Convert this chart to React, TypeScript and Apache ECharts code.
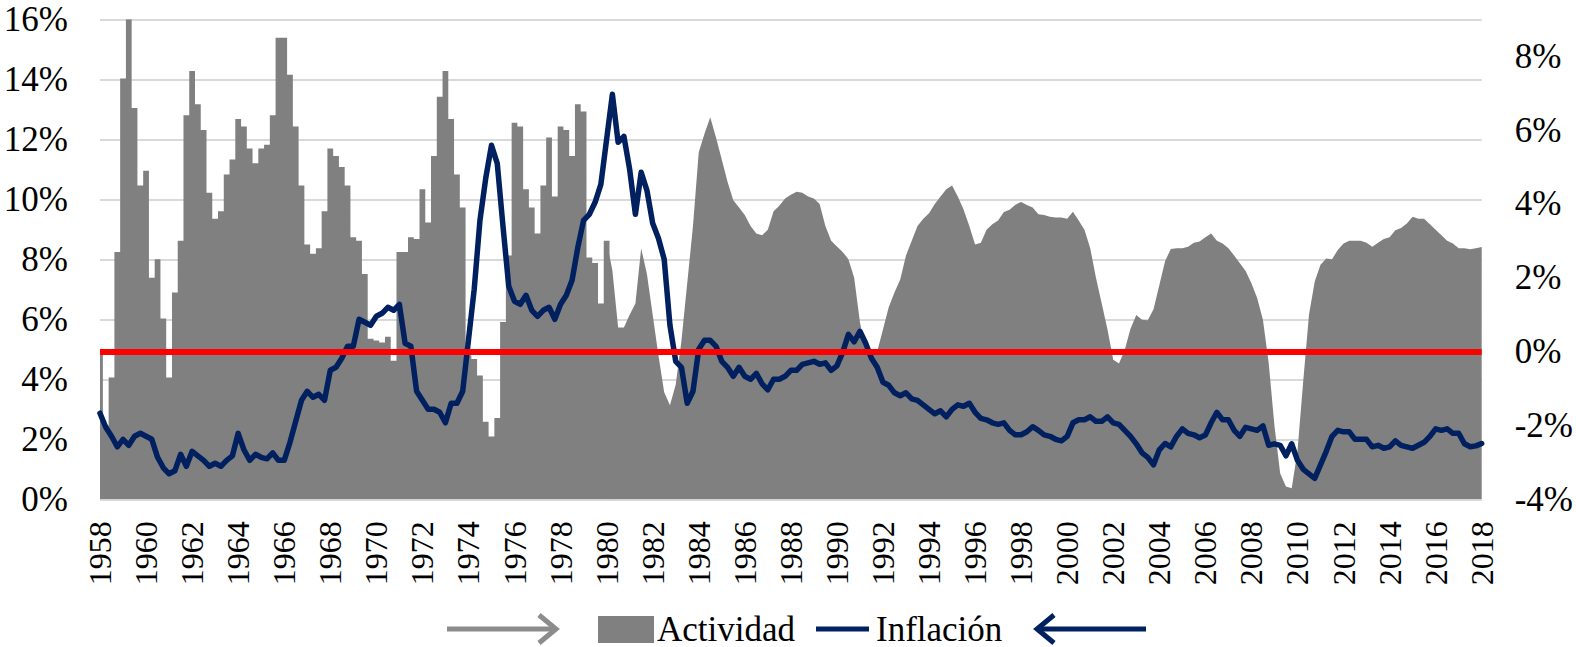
import React, { useEffect, useRef } from "react";
import * as echarts from "echarts";

// Quarterly data, 1958Q1 .. 2018Q1
const startYear = 1958;

// Actividad (right axis, %)
const activity: number[] = [
  0.0, -2.0, -0.7, 2.7,
  7.4, 9.0, 6.6, 4.5,
  4.9, 2.0, 2.5, 0.9,
  -0.7, 1.6, 3.0, 6.4,
  7.6, 6.7, 6.0, 4.3,
  3.6, 3.8, 4.8, 5.2,
  6.3, 6.1, 5.5, 5.1,
  5.5, 5.6, 6.4, 8.5,
  8.5, 7.5, 6.1, 4.5,
  2.9, 2.65, 2.8, 3.8,
  5.5, 5.3, 5.0, 4.5,
  3.1, 3.0, 2.1, 0.35,
  0.3, 0.25, 0.4, -0.25,
  2.7, 2.7, 3.1, 3.05,
  4.4, 3.5, 5.3, 6.9,
  7.6, 6.3, 4.8, 3.9,
  -0.1, -0.2, -0.65, -1.9,
  -2.3, -1.8, 0.8, 2.6,
  6.2, 6.1, 4.4, 3.9,
  3.2, 4.5, 5.8, 4.2,
  6.1, 6.0, 5.3, 6.7,
  6.5, 2.55, 2.4, 1.3,
  3.0, 2.2, 0.65, 0.65,
  1.0, 1.3, 2.8, 2.1,
  1.0, -0.1, -1.1, -1.45,
  -0.9, 0.3, 1.85, 3.4,
  5.4, 5.9, 6.35, 5.8,
  5.2, 4.6, 4.1, 3.9,
  3.7, 3.4, 3.2, 3.15,
  3.3, 3.8, 3.95, 4.15,
  4.25, 4.33, 4.3, 4.2,
  4.15, 4.0, 3.4, 3.0,
  2.85, 2.7, 2.5, 2.0,
  0.8, 0.0, -0.05, 0.0,
  0.6, 1.2, 1.6, 1.95,
  2.6, 3.0, 3.4, 3.6,
  3.75, 4.0, 4.2, 4.4,
  4.5, 4.2, 3.85, 3.4,
  2.9, 2.95, 3.3, 3.45,
  3.55, 3.78, 3.84, 3.98,
  4.05, 3.97, 3.9, 3.72,
  3.7, 3.65, 3.63, 3.63,
  3.6, 3.79, 3.55, 3.3,
  2.8, 2.0, 1.3, 0.6,
  -0.22, -0.32, 0.05, 0.62,
  0.99, 0.86, 0.85, 1.15,
  1.8, 2.45, 2.78, 2.8,
  2.8, 2.84, 2.95, 2.98,
  3.1, 3.2, 3.0, 2.93,
  2.8, 2.6, 2.39, 2.18,
  1.85, 1.45, 0.86, -0.3,
  -2.0, -3.3, -3.65, -3.7,
  -2.7, -0.8, 1.0, 1.9,
  2.35, 2.52, 2.5, 2.75,
  2.93, 3.0, 3.0, 3.0,
  2.95, 2.84, 2.95, 3.05,
  3.1, 3.29, 3.35, 3.47,
  3.65, 3.6, 3.6, 3.45,
  3.3, 3.15, 3.0, 2.93,
  2.8, 2.8, 2.77, 2.8,
  2.83,
];

// Inflación (left axis, %)
const inflation: number[] = [
  2.87, 2.4, 2.1, 1.75,
  2.0, 1.8, 2.1, 2.2,
  2.1, 2.0, 1.4, 1.05,
  0.85, 0.95, 1.5, 1.1,
  1.6, 1.45, 1.3, 1.1,
  1.2, 1.1, 1.3, 1.45,
  2.2, 1.65, 1.3, 1.5,
  1.4, 1.35, 1.55, 1.3,
  1.3, 1.9, 2.6, 3.3,
  3.6, 3.4, 3.5, 3.3,
  4.3, 4.4, 4.7, 5.1,
  5.1, 6.0, 5.9, 5.8,
  6.1, 6.2, 6.4, 6.3,
  6.5, 5.2, 5.1, 3.6,
  3.3, 3.0, 3.0, 2.9,
  2.55, 3.2, 3.2, 3.6,
  5.3, 7.0, 9.3, 10.7,
  11.8, 11.2, 9.1, 7.1,
  6.6, 6.5, 6.8, 6.3,
  6.1, 6.3, 6.4, 6.0,
  6.5, 6.8, 7.3, 8.4,
  9.3, 9.5, 9.9, 10.5,
  12.0, 13.5, 11.9, 12.1,
  11.0, 9.5, 10.9, 10.3,
  9.2, 8.7, 8.0, 5.8,
  4.6, 4.4, 3.2, 3.6,
  5.0, 5.3, 5.3, 5.1,
  4.6, 4.4, 4.1, 4.4,
  4.1, 4.0, 4.2, 3.85,
  3.65, 4.0, 4.0, 4.1,
  4.3, 4.3, 4.5, 4.55,
  4.6, 4.5, 4.55, 4.3,
  4.45, 4.9, 5.5, 5.25,
  5.6, 5.2, 4.7, 4.4,
  3.9, 3.8, 3.55, 3.45,
  3.55, 3.35, 3.3, 3.15,
  3.0, 2.85, 2.95, 2.75,
  3.0, 3.15, 3.1, 3.2,
  2.9, 2.7, 2.65, 2.55,
  2.5, 2.55, 2.3, 2.15,
  2.15, 2.25, 2.42, 2.3,
  2.15, 2.1, 2.0, 1.95,
  2.1, 2.55, 2.65, 2.65,
  2.75, 2.6, 2.6, 2.75,
  2.55, 2.5, 2.3, 2.1,
  1.85, 1.55, 1.4, 1.15,
  1.65, 1.86, 1.75, 2.1,
  2.35, 2.2, 2.15, 2.05,
  2.14, 2.55, 2.9, 2.65,
  2.65, 2.3, 2.1, 2.4,
  2.35, 2.3, 2.45, 1.8,
  1.85, 1.8, 1.45, 1.85,
  1.3, 1.0, 0.85, 0.7,
  1.15, 1.6, 2.1, 2.3,
  2.25, 2.25, 2.0, 2.0,
  2.0, 1.75, 1.8, 1.7,
  1.75, 1.95, 1.8, 1.75,
  1.7, 1.8, 1.9, 2.1,
  2.35, 2.3, 2.35, 2.2,
  2.2, 1.85, 1.75, 1.78,
  1.86,
];

const leftTicks = [0, 2, 4, 6, 8, 10, 12, 14, 16];
const rightTicks = [-4, -2, 0, 2, 4, 6, 8];

const seriesNames = ["Actividad", "Inflación"];

// the early activity data is quarterly-stepped in the source (up to 1980Q1)
const stepEndIndex = 88;

const quarters = activity.map(
  (_, i) => `${startYear + Math.floor(i / 4)}T${(i % 4) + 1}`
);

const FONT = "'Liberation Serif', 'Times New Roman', serif";
const GREY = "#808080";
const NAVY = "#002060";

export default function App() {
  const ref = useRef<HTMLDivElement>(null);

  useEffect(() => {
    document.body.style.margin = "0";
    if (!ref.current) return;
    const chart = echarts.init(ref.current, undefined, { renderer: "svg" });

    const legendY = 629;
    const actStep = activity.map((v, i) => (i <= stepEndIndex ? v : null));
    const actSmooth = activity.map((v, i) => (i >= stepEndIndex ? v : null));

    const areaBase = {
      name: seriesNames[0],
      type: "line",
      yAxisIndex: 1,
      showSymbol: false,
      connectNulls: false,
      lineStyle: { width: 0, color: GREY },
      itemStyle: { color: GREY },
      areaStyle: { color: GREY, opacity: 1, origin: "start" },
      z: 1,
    };

    chart.setOption({
      animation: false,
      backgroundColor: "#ffffff",
      grid: { left: 100, right: 84, top: 19.3, bottom: 147.7, containLabel: false },
      xAxis: {
        type: "category",
        data: quarters,
        boundaryGap: false,
        axisLine: { show: false },
        axisTick: { show: false },
        splitLine: { show: false },
        axisLabel: {
          interval: (i: number) => i % 8 === 0,
          formatter: (v: string) => v.slice(0, 4),
          rotate: 90,
          margin: 22,
          fontSize: 32,
          fontFamily: FONT,
          color: "#000",
        },
      },
      yAxis: [
        {
          type: "value",
          min: leftTicks[0],
          max: leftTicks[leftTicks.length - 1],
          interval: 2,
          axisLine: { show: false },
          axisTick: { show: false },
          splitLine: { show: true, lineStyle: { color: "#d9d9d9", width: 2 } },
          axisLabel: {
            formatter: (v: number) => `${v}%`,
            margin: 32,
            fontSize: 35,
            fontFamily: FONT,
            color: "#000",
          },
        },
        {
          type: "value",
          min: rightTicks[0],
          max: 9,
          interval: 2,
          position: "right",
          axisLine: { show: false },
          axisTick: { show: false },
          splitLine: { show: false },
          axisLabel: {
            formatter: (v: number) => (rightTicks.includes(v) ? `${v}%` : ""),
            margin: 33,
            fontSize: 35,
            fontFamily: FONT,
            color: "#000",
          },
        },
      ],
      series: [
        {
          ...areaBase,
          data: actStep,
          step: "middle",
        },
        {
          ...areaBase,
          data: actSmooth,
          markLine: {
            silent: true,
            symbol: "none",
            label: { show: false },
            lineStyle: { color: "#ff0000", width: 6, type: "solid" },
            data: [{ yAxis: 0 }],
          },
        },
        {
          name: seriesNames[1],
          type: "line",
          yAxisIndex: 0,
          data: inflation,
          showSymbol: false,
          lineStyle: { width: 5.5, color: NAVY, join: "round", cap: "round" },
          itemStyle: { color: NAVY },
          z: 3,
        },
      ],
      graphic: [
        // grey arrow (→)
        {
          type: "line",
          shape: { x1: 447, y1: legendY, x2: 556, y2: legendY },
          style: { stroke: "#8c8c8c", lineWidth: 5 },
        },
        {
          type: "polyline",
          shape: { points: [[539, legendY - 14], [556, legendY], [539, legendY + 14]] },
          style: { stroke: "#8c8c8c", lineWidth: 5, fill: null },
        },
        // Actividad legend item
        {
          type: "rect",
          shape: { x: 598, y: legendY - 13, width: 56, height: 27 },
          style: { fill: GREY },
        },
        {
          type: "text",
          x: 657,
          y: legendY,
          style: {
            text: seriesNames[0],
            font: `35px ${FONT}`,
            lineHeight: 34,
            fill: "#000",
            verticalAlign: "middle",
          },
        },
        // Inflación legend item
        {
          type: "line",
          shape: { x1: 816, y1: legendY, x2: 869, y2: legendY },
          style: { stroke: NAVY, lineWidth: 5 },
        },
        {
          type: "text",
          x: 876,
          y: legendY,
          style: {
            text: seriesNames[1],
            font: `35px ${FONT}`,
            lineHeight: 34,
            fill: "#000",
            verticalAlign: "middle",
          },
        },
        // navy arrow (←)
        {
          type: "line",
          shape: { x1: 1037, y1: legendY, x2: 1146, y2: legendY },
          style: { stroke: NAVY, lineWidth: 5 },
        },
        {
          type: "polyline",
          shape: { points: [[1054, legendY - 14], [1037, legendY], [1054, legendY + 14]] },
          style: { stroke: NAVY, lineWidth: 5, fill: null },
        },
      ],
    });

    return () => chart.dispose();
  }, []);

  return <div ref={ref} style={{ width: 1576, height: 647 }} />;
}
